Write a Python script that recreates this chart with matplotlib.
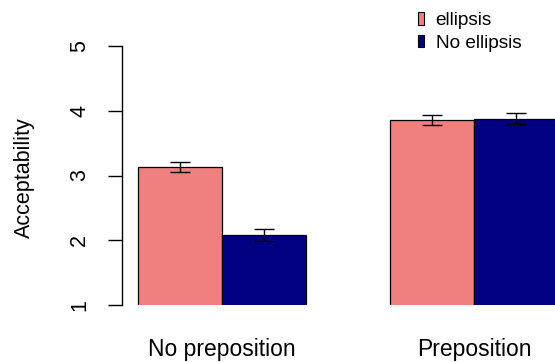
import matplotlib
matplotlib.use("Agg")
import matplotlib.pyplot as plt
from matplotlib.patches import Patch

plt.rcParams['font.family'] = ['Liberation Sans', 'DejaVu Sans']

groups = ["No preposition", "Preposition"]
series = ["ellipsis", "No ellipsis"]
means = {"ellipsis": [3.13, 3.86], "No ellipsis": [2.08, 3.88]}
errs = {"ellipsis": [0.08, 0.08], "No ellipsis": [0.09, 0.09]}
colors = {"ellipsis": "#F08080", "No ellipsis": "#000080"}

W, H = 555, 362
fig = plt.figure(figsize=(W / 100, H / 100), dpi=100)
# plot region in pixels: left 122, right 555, top 46, bottom 305
ax = fig.add_axes([122 / W, 1 - 305 / H, (555 - 122) / W, (305 - 46) / H])

# R barplot layout: bar width 1, space=c(0,1)
x0 = 1.0
centers = []
for g in range(len(groups)):
    start = x0 + g * 3
    for s, name in enumerate(series):
        xc = start + s + 0.5
        ax.bar(xc, means[name][g], width=1, bottom=0, color=colors[name],
               edgecolor="black", linewidth=0.9, zorder=2)
        ax.errorbar(xc, means[name][g], yerr=errs[name][g], fmt="none",
                    ecolor="black", elinewidth=1, capsize=7, capthick=1, zorder=3)
    centers.append(start + 1)

px_per_unit = 84
ax.set_xlim(x0 - (138 - 122) / px_per_unit, x0 + (555 - 138) / px_per_unit)
ax.set_ylim(1, 5)

for sp in ["top", "right", "bottom"]:
    ax.spines[sp].set_visible(False)
ax.spines["left"].set_linewidth(1)
ax.set_yticks([1, 2, 3, 4, 5])
ax.set_yticklabels(["1", "2", "3", "4", "5"], rotation=90, va="center", fontsize=15.5)
ax.tick_params(axis="y", length=10, width=1, pad=13)
ax.set_xticks([])

# group labels (baseline at ~356 px)
for c, lab in zip(centers, groups):
    xf = (122 + (c - ax.get_xlim()[0]) * px_per_unit) / W
    fig.text(xf, 1 - 356 / H, lab, ha="center", va="baseline", fontsize=16.5)

fig.text(24 / W, 1 - 178 / H, "Acceptability", rotation=90, ha="center",
         va="center", fontsize=15.5)

handles = [Patch(facecolor=colors[n], edgecolor="black", linewidth=0.8) for n in series]
fig.legend(handles, series, loc="upper left", bbox_to_anchor=(418 / W, 1 - 12 / H),
           frameon=False, fontsize=13.7, handlelength=0.32, handleheight=0.65,
           handletextpad=0.6, labelspacing=0.3, borderpad=0, borderaxespad=0)

fig.savefig("out.png", dpi=100)
